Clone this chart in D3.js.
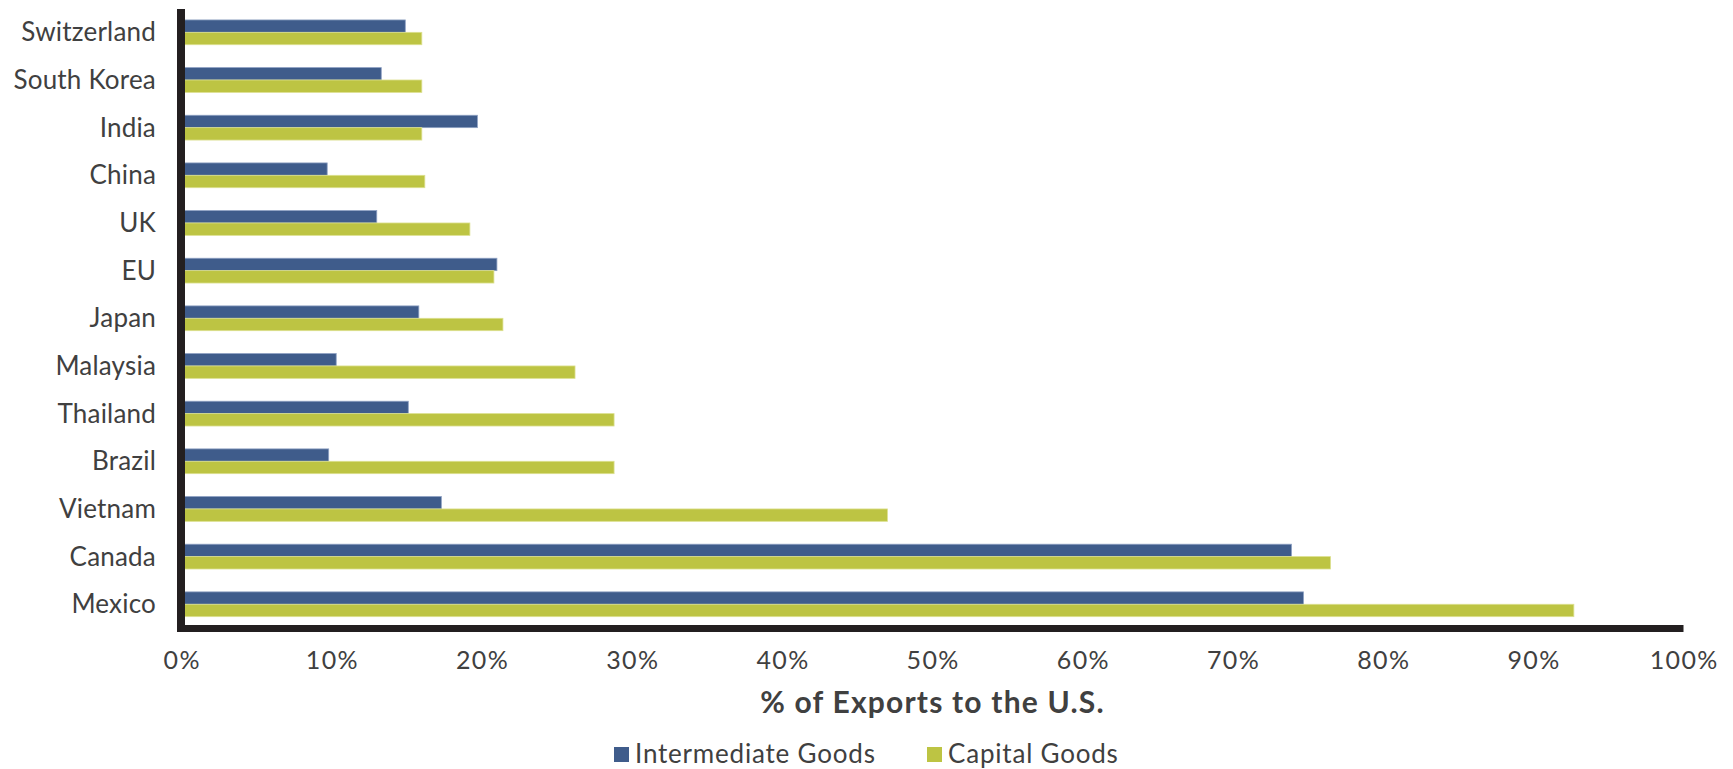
<!DOCTYPE html>
<html>
<head>
<meta charset="utf-8">
<script src="https://cdn.jsdelivr.net/npm/d3@7"></script>
<style>
  html, body { margin: 0; padding: 0; background: #fff; }
  svg { display: block; }
  text { font-family: Lato, "Noto Sans", sans-serif; fill: #404040; }
</style>
</head>
<body>
<svg id="chart" width="1733" height="769"></svg>
<script>
const categories = ["Switzerland","South Korea","India","China","UK","EU","Japan","Malaysia","Thailand","Brazil","Vietnam","Canada","Mexico"];
const intermediateGoods = [14.9, 13.3, 19.7, 9.7, 13.0, 21.0, 15.8, 10.3, 15.1, 9.8, 17.3, 73.9, 74.7];
const capitalGoods      = [16.0, 16.0, 16.0, 16.2, 19.2, 20.8, 21.4, 26.2, 28.8, 28.8, 47.0, 76.5, 92.7];
const seriesNames = ["Intermediate Goods", "Capital Goods"];
const seriesColors = ["#3F5C8B", "#BDC443"];
const xTicks = [0,10,20,30,40,50,60,70,80,90,100];
const xTitle = "% of Exports to the U.S.";

const svg = d3.select("#chart");
const x = d3.scaleLinear().domain([0, 100]).range([181.5, 1683.5]);
const y = d3.scaleBand().domain(categories).range([8.5, 628.1]).paddingInner(0.48).paddingOuter(0.24);
const sub = d3.scaleBand().domain(seriesNames).range([0, y.bandwidth()]);

const rows = categories.map((c, i) => ({c, vals: [intermediateGoods[i], capitalGoods[i]]}));

const g = svg.append("g");
rows.forEach(r => {
  r.vals.forEach((v, k) => {
    g.append("rect")
      .attr("x", x(0))
      .attr("y", y(r.c) + sub(seriesNames[k]))
      .attr("width", x(v) - x(0))
      .attr("height", sub.bandwidth())
      .attr("fill", seriesColors[k])
      .attr("stroke", k === 0 ? "#8DA0C2" : "#DCE08F")
      .attr("stroke-width", 0.8);
  });
});

// axes lines
svg.append("rect").attr("x", x(0) - 4.5).attr("y", 9).attr("width", 8).attr("height", 623).attr("fill", "#231F20");
svg.append("rect").attr("x", x(0) - 1).attr("y", 625).attr("width", x(100) - x(0) + 1).attr("height", 7).attr("fill", "#231F20");

// category labels
svg.append("g").selectAll("text").data(categories).join("text")
  .attr("x", 156)
  .attr("y", d => y(d) + y.bandwidth() / 2 + 9)
  .attr("text-anchor", "end")
  .attr("font-size", 26)
  .attr("letter-spacing", 0.2)
  .text(d => d);

// x tick labels
svg.append("g").selectAll("text").data(xTicks).join("text")
  .attr("x", d => x(d) + 0.7)
  .attr("y", 669)
  .attr("text-anchor", "middle")
  .attr("font-size", 25)
  .attr("letter-spacing", 1.4)
  .text(d => d + "%");

// axis title
svg.append("text")
  .attr("x", (x(0) + x(100)) / 2)
  .attr("y", 713)
  .attr("text-anchor", "middle")
  .attr("font-size", 30)
  .attr("font-weight", "bold")
  .attr("letter-spacing", 1.2)
  .text(xTitle);

// legend
const legendX = [614, 927];
seriesNames.forEach((n, k) => {
  svg.append("rect").attr("x", legendX[k]).attr("y", 747).attr("width", 15).attr("height", 15).attr("fill", seriesColors[k]);
  svg.append("text").attr("x", legendX[k] + 21).attr("y", 763).attr("font-size", 26).attr("letter-spacing", 0.8).text(n);
});
</script>
</body>
</html>
